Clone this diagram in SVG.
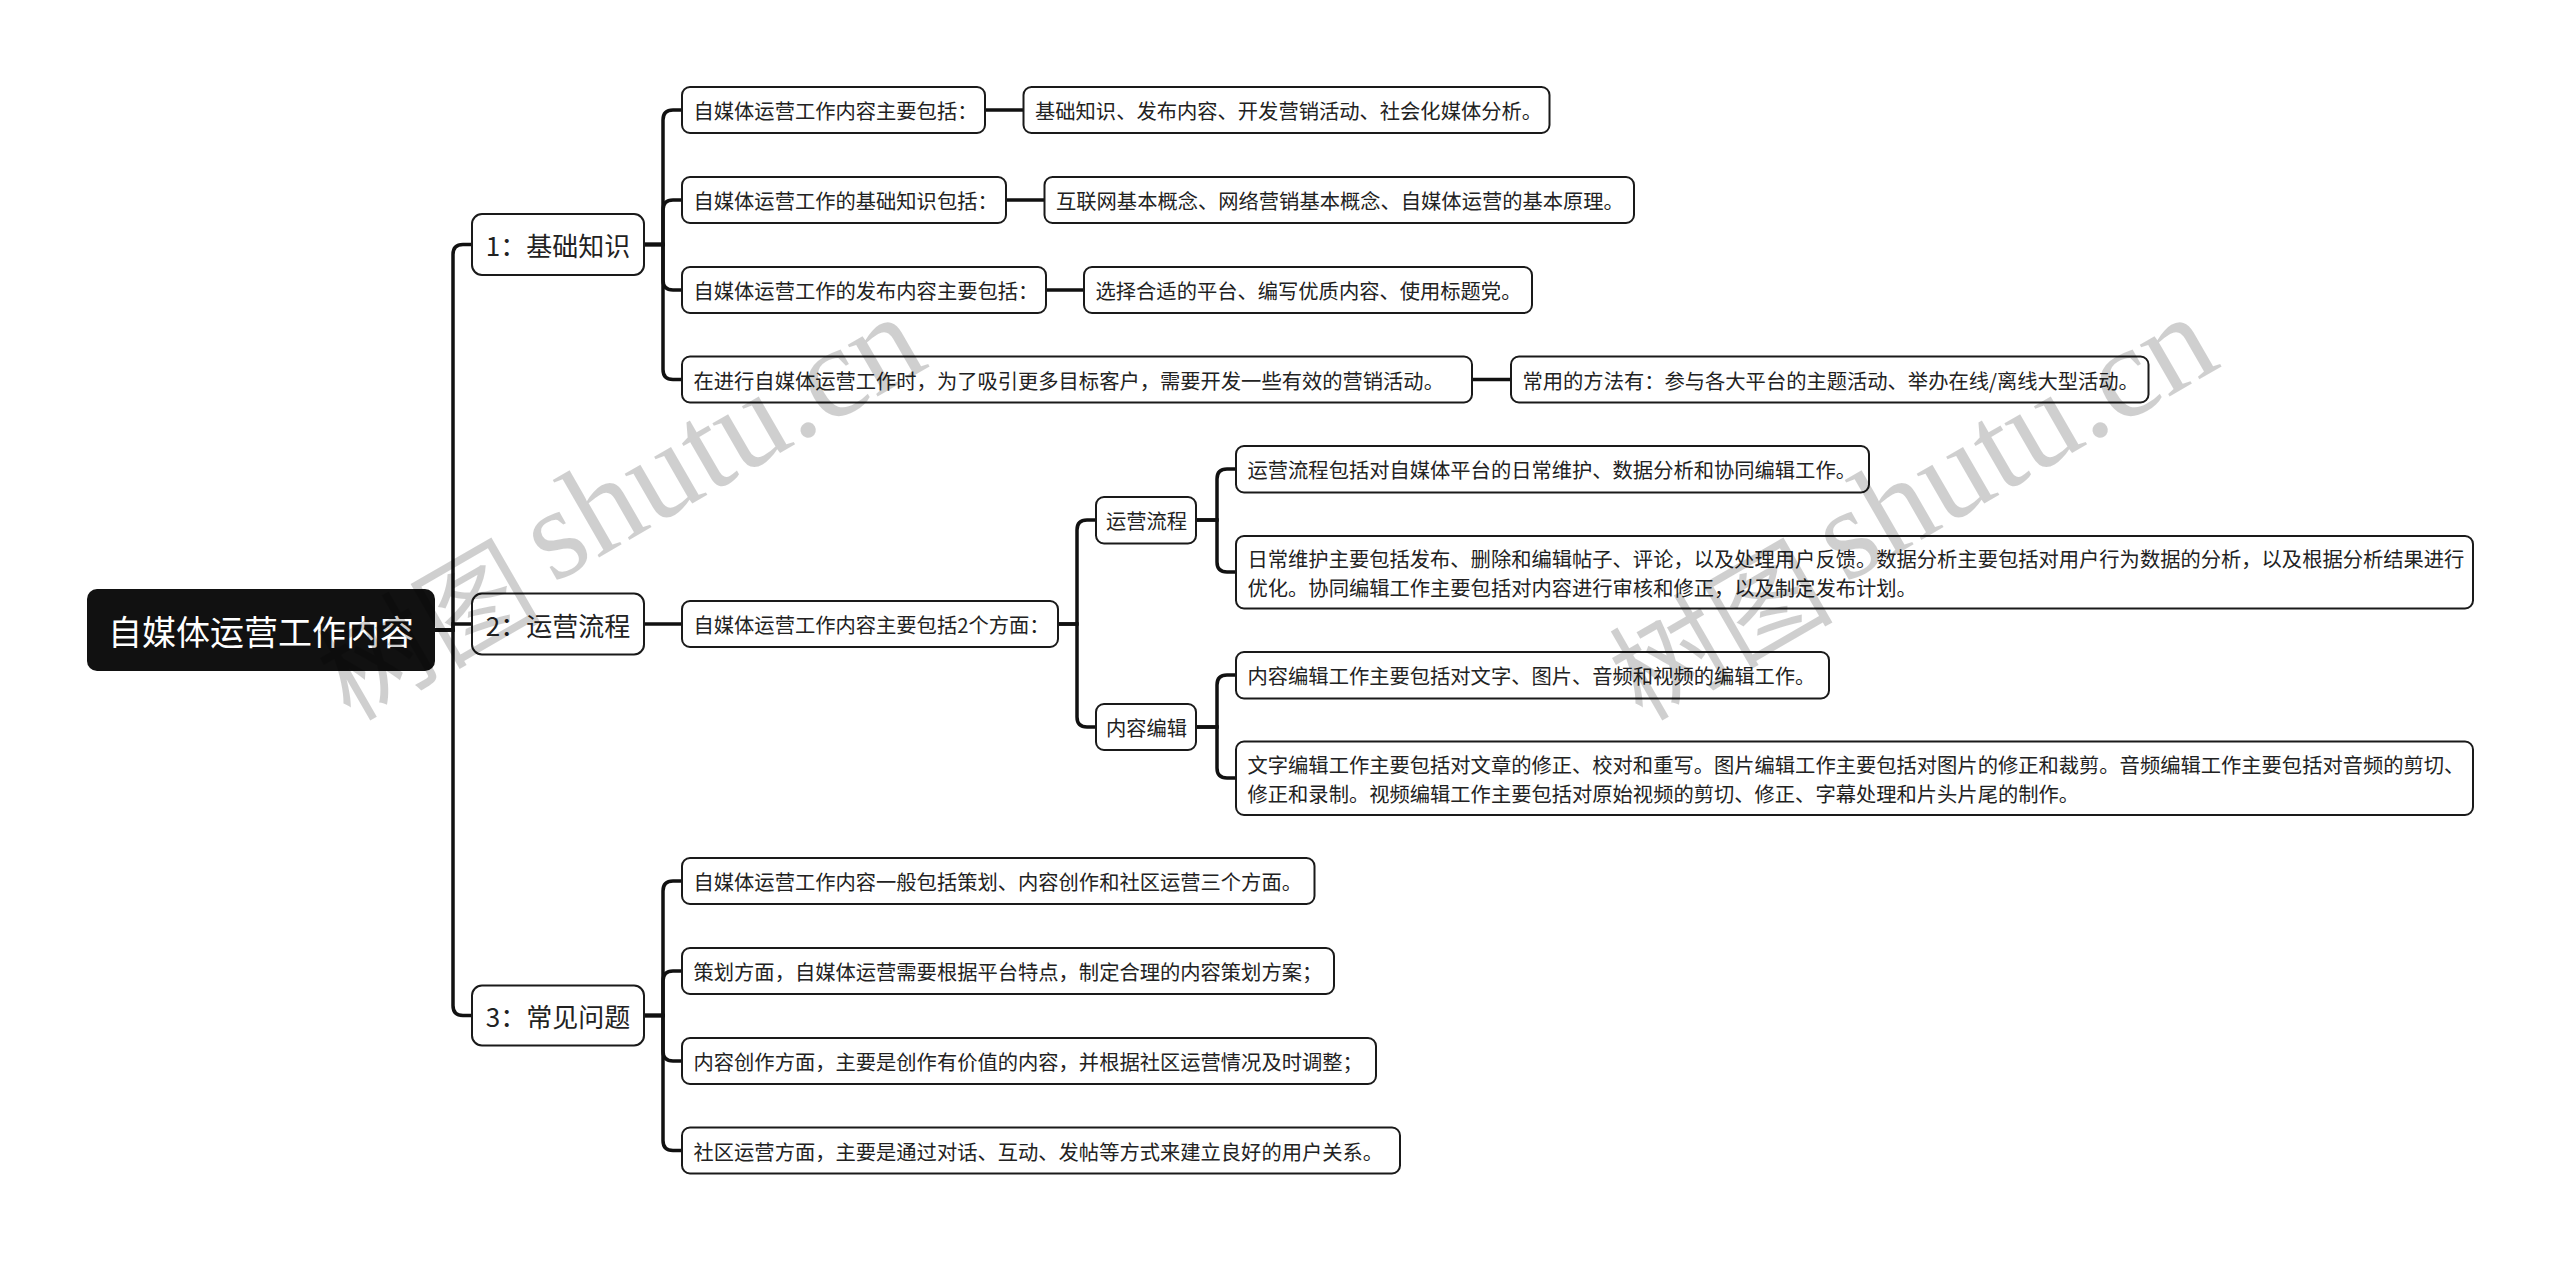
<svg xmlns="http://www.w3.org/2000/svg" xmlns:xlink="http://www.w3.org/1999/xlink" width="2560" height="1261" viewBox="0 0 2560 1261">
<style>
.bg{fill:#ffffff}
.box{fill:#ffffff;stroke:#1a1a1a;stroke-width:2}
.root{fill:#111111}
.t{font-family:"Noto Sans CJK SC","Microsoft YaHei",sans-serif;fill:#222222;dominant-baseline:central}
.t2{font-size:20.3px}
.t1{font-size:26px;text-anchor:middle}
.t0{font-size:34px;fill:#ffffff;text-anchor:middle}
.c{fill:none;stroke:#111111;stroke-width:3.5}
.wm{font-family:"Liberation Serif","Noto Sans CJK SC",serif;fill:#000000;fill-opacity:0.19}
.wmc{font-family:"Noto Sans CJK SC",sans-serif;font-size:112px}
.wml{font-size:130px}
</style>
<defs>
<g id="wmark">
<text class="wm wmc" transform="translate(350,722) rotate(-30)">树图</text>
<text class="wm wml" transform="translate(553,584) rotate(-30)">shutu.cn</text>
</g>
</defs>
<rect class="bg" x="0" y="0" width="2560" height="1261"/>
<g id="connectors">
<path class="c" d="M435,630 H453 V254.5 Q453,244.5 463,244.5 H472"/>
<path class="c" d="M435,630 H453 V624 H472"/>
<path class="c" d="M435,630 H453 V1005.5 Q453,1015.5 463,1015.5 H472"/>
<path class="c" d="M644,244.5 H663 V120 Q663,110 673,110 H682"/>
<path class="c" d="M644,244.5 H663 V210 Q663,200 673,200 H682"/>
<path class="c" d="M644,244.5 H663 V280 Q663,290 673,290 H682"/>
<path class="c" d="M644,244.5 H663 V369.5 Q663,379.5 673,379.5 H682"/>
<path class="c" d="M985,110 H1023.5"/>
<path class="c" d="M1006,200 H1044.5"/>
<path class="c" d="M1046,290 H1084"/>
<path class="c" d="M1472,379.5 H1511"/>
<path class="c" d="M644,624 H682"/>
<path class="c" d="M1058,624 H1077 V530 Q1077,520 1087,520 H1096"/>
<path class="c" d="M1058,624 H1077 V717 Q1077,727 1087,727 H1096"/>
<path class="c" d="M1196,520 H1217 V479 Q1217,469 1227,469 H1236"/>
<path class="c" d="M1196,520 H1217 V562 Q1217,572 1227,572 H1236"/>
<path class="c" d="M1196,727 H1217 V685 Q1217,675 1227,675 H1236"/>
<path class="c" d="M1196,727 H1217 V768 Q1217,778 1227,778 H1236"/>
<path class="c" d="M644,1015.5 H663 V891 Q663,881 673,881 H682"/>
<path class="c" d="M644,1015.5 H663 V981 Q663,971 673,971 H682"/>
<path class="c" d="M644,1015.5 H663 V1051 Q663,1061 673,1061 H682"/>
<path class="c" d="M644,1015.5 H663 V1140.5 Q663,1150.5 673,1150.5 H682"/>
</g>
<g id="root"><rect class="root" x="87" y="589" width="348" height="82" rx="10"/><text class="t t0" x="261" y="630">自媒体运营工作内容</text></g>
<g id="n1"><rect class="box" x="472" y="214" width="172" height="61" rx="10"/><text class="t t1" x="558" y="244.5">1：基础知识</text></g>
<g id="n2"><rect class="box" x="472" y="593.5" width="172" height="61" rx="10"/><text class="t t1" x="558" y="624">2：运营流程</text></g>
<g id="n3"><rect class="box" x="472" y="985.5" width="172" height="60" rx="10"/><text class="t t1" x="558" y="1015.5">3：常见问题</text></g>
<g id="a1"><rect class="box" x="682" y="87" width="303" height="46" rx="8"/><text class="t t2" x="693.5" y="110">自媒体运营工作内容主要包括：</text></g>
<g id="a1b"><rect class="box" x="1023.5" y="87" width="526" height="46" rx="8"/><text class="t t2" x="1035" y="110">基础知识、发布内容、开发营销活动、社会化媒体分析。</text></g>
<g id="a2"><rect class="box" x="682" y="177" width="324" height="46" rx="8"/><text class="t t2" x="693.5" y="200">自媒体运营工作的基础知识包括：</text></g>
<g id="a2b"><rect class="box" x="1044.5" y="177" width="589.5" height="46" rx="8"/><text class="t t2" x="1056" y="200">互联网基本概念、网络营销基本概念、自媒体运营的基本原理。</text></g>
<g id="a3"><rect class="box" x="682" y="267" width="364" height="46" rx="8"/><text class="t t2" x="693.5" y="290">自媒体运营工作的发布内容主要包括：</text></g>
<g id="a3b"><rect class="box" x="1084" y="267" width="448" height="46" rx="8"/><text class="t t2" x="1095.5" y="290">选择合适的平台、编写优质内容、使用标题党。</text></g>
<g id="a4"><rect class="box" x="682" y="356.5" width="790" height="46" rx="8"/><text class="t t2" x="693.5" y="379.5">在进行自媒体运营工作时，为了吸引更多目标客户，需要开发一些有效的营销活动。</text></g>
<g id="a4b"><rect class="box" x="1511" y="356.5" width="637.5" height="46" rx="8"/><text class="t t2" x="1522.5" y="379.5">常用的方法有：参与各大平台的主题活动、举办在线/离线大型活动。</text></g>
<g id="b"><rect class="box" x="682" y="601" width="376" height="46" rx="8"/><text class="t t2" x="693.5" y="624">自媒体运营工作内容主要包括2个方面：</text></g>
<g id="p1"><rect class="box" x="1096" y="497" width="100" height="46.5" rx="8"/><text class="t t2" x="1106" y="520">运营流程</text></g>
<g id="p2"><rect class="box" x="1096" y="704" width="100" height="46" rx="8"/><text class="t t2" x="1106" y="727">内容编辑</text></g>
<g id="c1"><rect class="box" x="1236" y="446" width="633" height="46.5" rx="8"/><text class="t t2" x="1247.5" y="469">运营流程包括对自媒体平台的日常维护、数据分析和协同编辑工作。</text></g>
<g id="c2"><rect class="box" x="1236" y="536" width="1237" height="72.5" rx="8"/><text class="t t2" x="1247.5" y="557.5">日常维护主要包括发布、删除和编辑帖子、评论，以及处理用户反馈。数据分析主要包括对用户行为数据的分析，以及根据分析结果进行</text><text class="t t2" x="1247.5" y="586.5">优化。协同编辑工作主要包括对内容进行审核和修正，以及制定发布计划。</text></g>
<g id="c3"><rect class="box" x="1236" y="652" width="593" height="46.5" rx="8"/><text class="t t2" x="1247.5" y="675">内容编辑工作主要包括对文字、图片、音频和视频的编辑工作。</text></g>
<g id="c4"><rect class="box" x="1236" y="741.5" width="1237" height="73.5" rx="8"/><text class="t t2" x="1247.5" y="763.5">文字编辑工作主要包括对文章的修正、校对和重写。图片编辑工作主要包括对图片的修正和裁剪。音频编辑工作主要包括对音频的剪切、</text><text class="t t2" x="1247.5" y="792.5">修正和录制。视频编辑工作主要包括对原始视频的剪切、修正、字幕处理和片头片尾的制作。</text></g>
<g id="d1"><rect class="box" x="682" y="858" width="632.5" height="46" rx="8"/><text class="t t2" x="693.5" y="881">自媒体运营工作内容一般包括策划、内容创作和社区运营三个方面。</text></g>
<g id="d2"><rect class="box" x="682" y="948" width="652" height="46" rx="8"/><text class="t t2" x="693.5" y="971">策划方面，自媒体运营需要根据平台特点，制定合理的内容策划方案；</text></g>
<g id="d3"><rect class="box" x="682" y="1038" width="694" height="46" rx="8"/><text class="t t2" x="693.5" y="1061">内容创作方面，主要是创作有价值的内容，并根据社区运营情况及时调整；</text></g>
<g id="d4"><rect class="box" x="682" y="1127.5" width="718" height="46" rx="8"/><text class="t t2" x="693.5" y="1150.5">社区运营方面，主要是通过对话、互动、发帖等方式来建立良好的用户关系。</text></g>
<g id="watermark">
<use xlink:href="#wmark" href="#wmark"/>
<use xlink:href="#wmark" href="#wmark" transform="translate(1292,0)"/>
</g>
</svg>
